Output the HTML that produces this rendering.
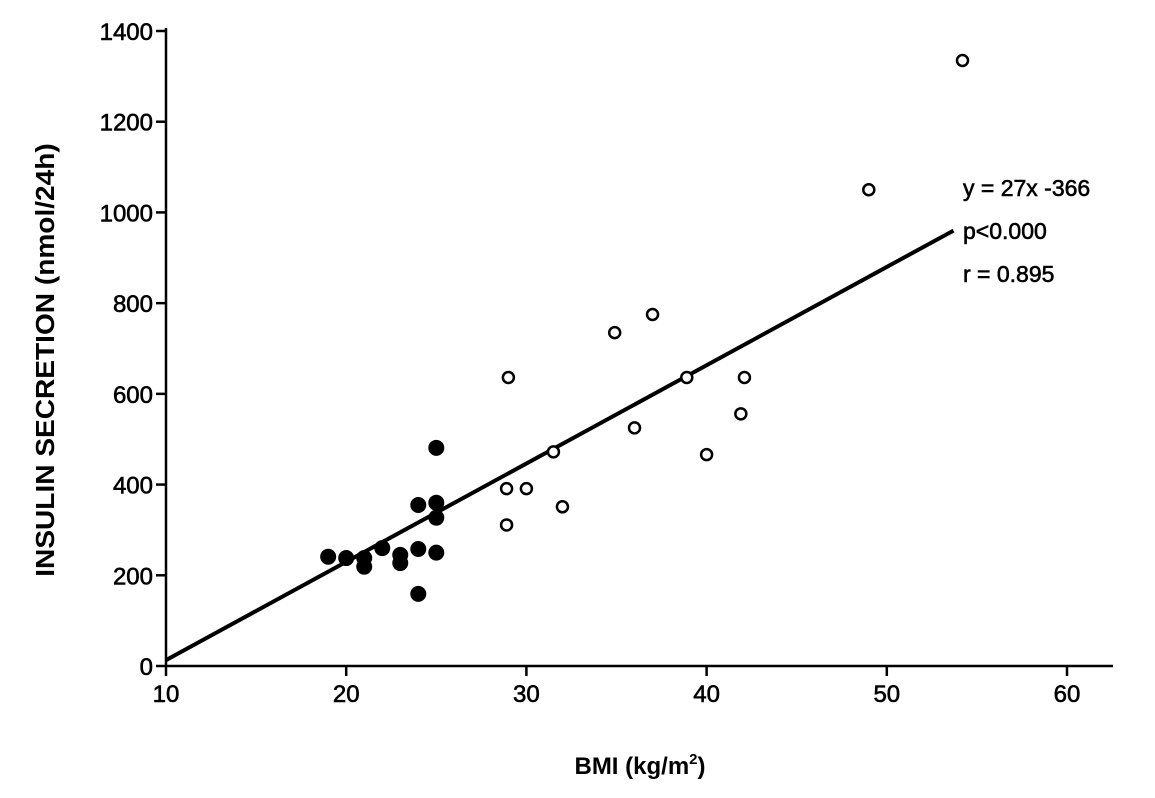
<!DOCTYPE html>
<html><head><meta charset="utf-8"><style>
body{margin:0;background:#fff;}
svg text{font-family:"Liberation Sans",sans-serif;fill:#000;}
</style></head><body>
<svg id="chart" width="1155" height="793" viewBox="0 0 1155 793">
<g id="axes"></g><g id="marks"></g>
<text x="640" y="774" text-anchor="middle" font-size="24" font-weight="bold">BMI (kg/m<tspan font-size="15" dy="-10">2</tspan><tspan dy="10">)</tspan></text>
<text transform="translate(54,360) rotate(-90) scale(1.08,1)" text-anchor="middle" font-size="26" font-weight="bold">INSULIN SECRETION (nmol/24h)</text>
<g font-size="23" stroke="#000" stroke-width="0.6">
<text x="963" y="196">y = 27x -366</text>
<text x="963" y="239">p&lt;0.000</text>
<text x="963" y="282">r = 0.895</text>
</g>
</svg>
<script>
const xTicks=[10,20,30,40,50,60];
const yTicks=[0,200,400,600,800,1000,1200,1400];
const filledX=[25,24,25,25,19,20,21,21,22,23,23,24,25,24];
const filledY=[481,355,360,327,241,238,219,238,260,245,227,258,250,159];
const openX=[54.2,49,34.9,37,29,38.9,42.1,41.9,36,31.5,40,28.9,30,32,28.9];
const openY=[1335,1050,735,775,636,636,636,556,525,472,466,391,391,351,311];
const lineX=[10,53.7];
const lineY=[13,960];
const X0=166,Y0=666,PX=18.02,PY=(666-31)/1400;
const sx=v=>X0+(v-10)*PX, sy=v=>Y0-v*PY;
const NS="http://www.w3.org/2000/svg";
const axes=document.getElementById('axes'), marks=document.getElementById('marks');
function mk(tag,attrs,parent){const e=document.createElementNS(NS,tag);for(const k in attrs)e.setAttribute(k,attrs[k]);parent.appendChild(e);return e;}
let e=mk('line',{x1:X0,y1:Y0,x2:1113,y2:Y0,stroke:'#000','stroke-width':2.5},axes);


e=mk('line',{x1:X0,y1:Y0,x2:X0,y2:28,stroke:'#000','stroke-width':2.5},axes);


xTicks.forEach(t=>{
  let l=mk('line',{x1:sx(t),y1:Y0,x2:sx(t),y2:Y0+10,stroke:'#000','stroke-width':2.5},axes);
  
  
  let tx=mk('text',{x:sx(t),y:702,'text-anchor':'middle','font-size':24,stroke:'#000','stroke-width':0.6},axes);tx.textContent=t;
  
  
});
yTicks.forEach(t=>{
  let l=mk('line',{x1:X0-10,y1:sy(t),x2:X0,y2:sy(t),stroke:'#000','stroke-width':2.5},axes);
  
  
  let tx=mk('text',{x:X0-13,y:sy(t)+9,'text-anchor':'end','font-size':24,stroke:'#000','stroke-width':0.6},axes);tx.textContent=t;
  
  
});
e=mk('line',{x1:sx(lineX[0]),y1:sy(lineY[0]),x2:sx(lineX[1]),y2:sy(lineY[1]),stroke:'#000','stroke-width':4},marks);


filledX.forEach((v,i)=>{
  let c=mk('circle',{cx:sx(v),cy:sy(filledY[i]),r:8,fill:'#000'},marks);
  
  
});
openX.forEach((v,i)=>{
  let c=mk('circle',{cx:sx(v),cy:sy(openY[i]),r:5.5,fill:'#fff',stroke:'#000','stroke-width':2.5},marks);
  
  
});
</script>
</body></html>
